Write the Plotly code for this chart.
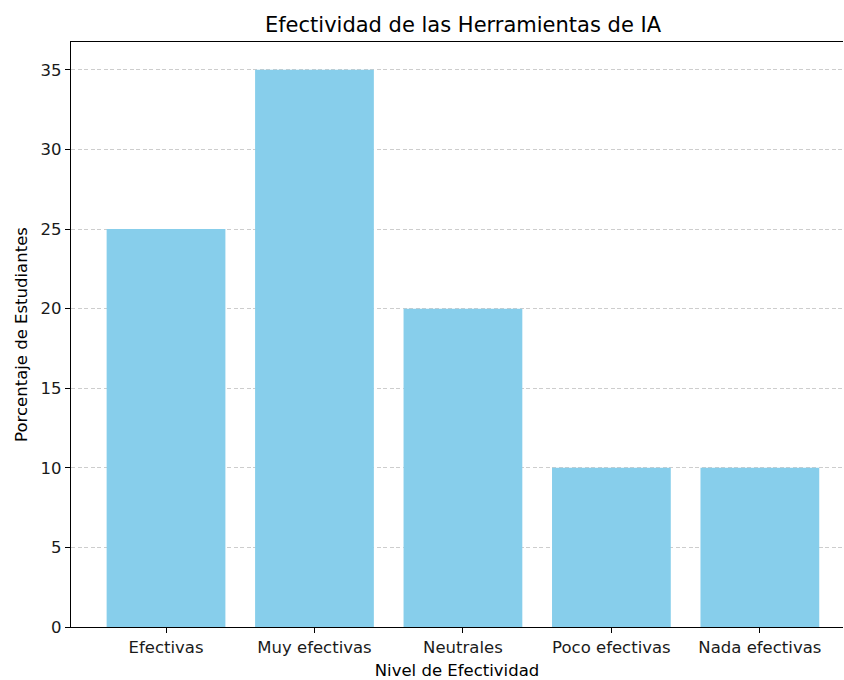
import plotly.graph_objects as go

categories = ["Efectivas", "Muy efectivas", "Neutrales", "Poco efectivas", "Nada efectivas"]
values = [25, 35, 20, 10, 10]
y_ticks = [0, 5, 10, 15, 20, 25, 30, 35]

font = "DejaVu Sans, Liberation Sans, sans-serif"

fig = go.Figure(go.Bar(x=list(range(len(categories))), y=values,
                       marker=dict(color="#87CEEB", line=dict(width=0)), width=0.8))

fig.update_layout(
    width=844, height=680,
    margin=dict(l=71, r=1, t=42, b=53),
    plot_bgcolor="white", paper_bgcolor="white",
    font=dict(family=font, size=16.5, color="#1a1a1a"),
    showlegend=False,
    title=dict(text="Efectividad de las Herramientas de IA", x=(71 + 855) / 2 / 844, xanchor="center",
               y=1 - 25/680, yanchor="middle", font=dict(size=21, color="black")),
    xaxis=dict(range=[-0.64, 4.56], tickmode="array", tickvals=list(range(len(categories))),
               ticktext=categories, showline=True, linecolor="black", linewidth=1.2, mirror=True,
               ticks="outside", ticklen=5, tickcolor="black", showgrid=False, zeroline=False,
               title=dict(text="Nivel de Efectividad", standoff=10, font=dict(size=16.5, color="black"))),
    yaxis=dict(range=[0, 36.75], tickvals=y_ticks, showline=True, linecolor="black", linewidth=1.2,
               mirror=False, ticks="outside", ticklen=5, tickcolor="black",
               showgrid=True, gridcolor="rgba(200,200,200,0.9)", griddash="4px,2.5px", gridwidth=1,
               zeroline=False,
               title=dict(text="Porcentaje de Estudiantes", standoff=8, font=dict(size=16.5, color="black"))),
)

fig.write_html("out.html", config={"displayModeBar": False},
               post_script="document.body.style.margin='0';document.body.style.overflow='hidden';")
